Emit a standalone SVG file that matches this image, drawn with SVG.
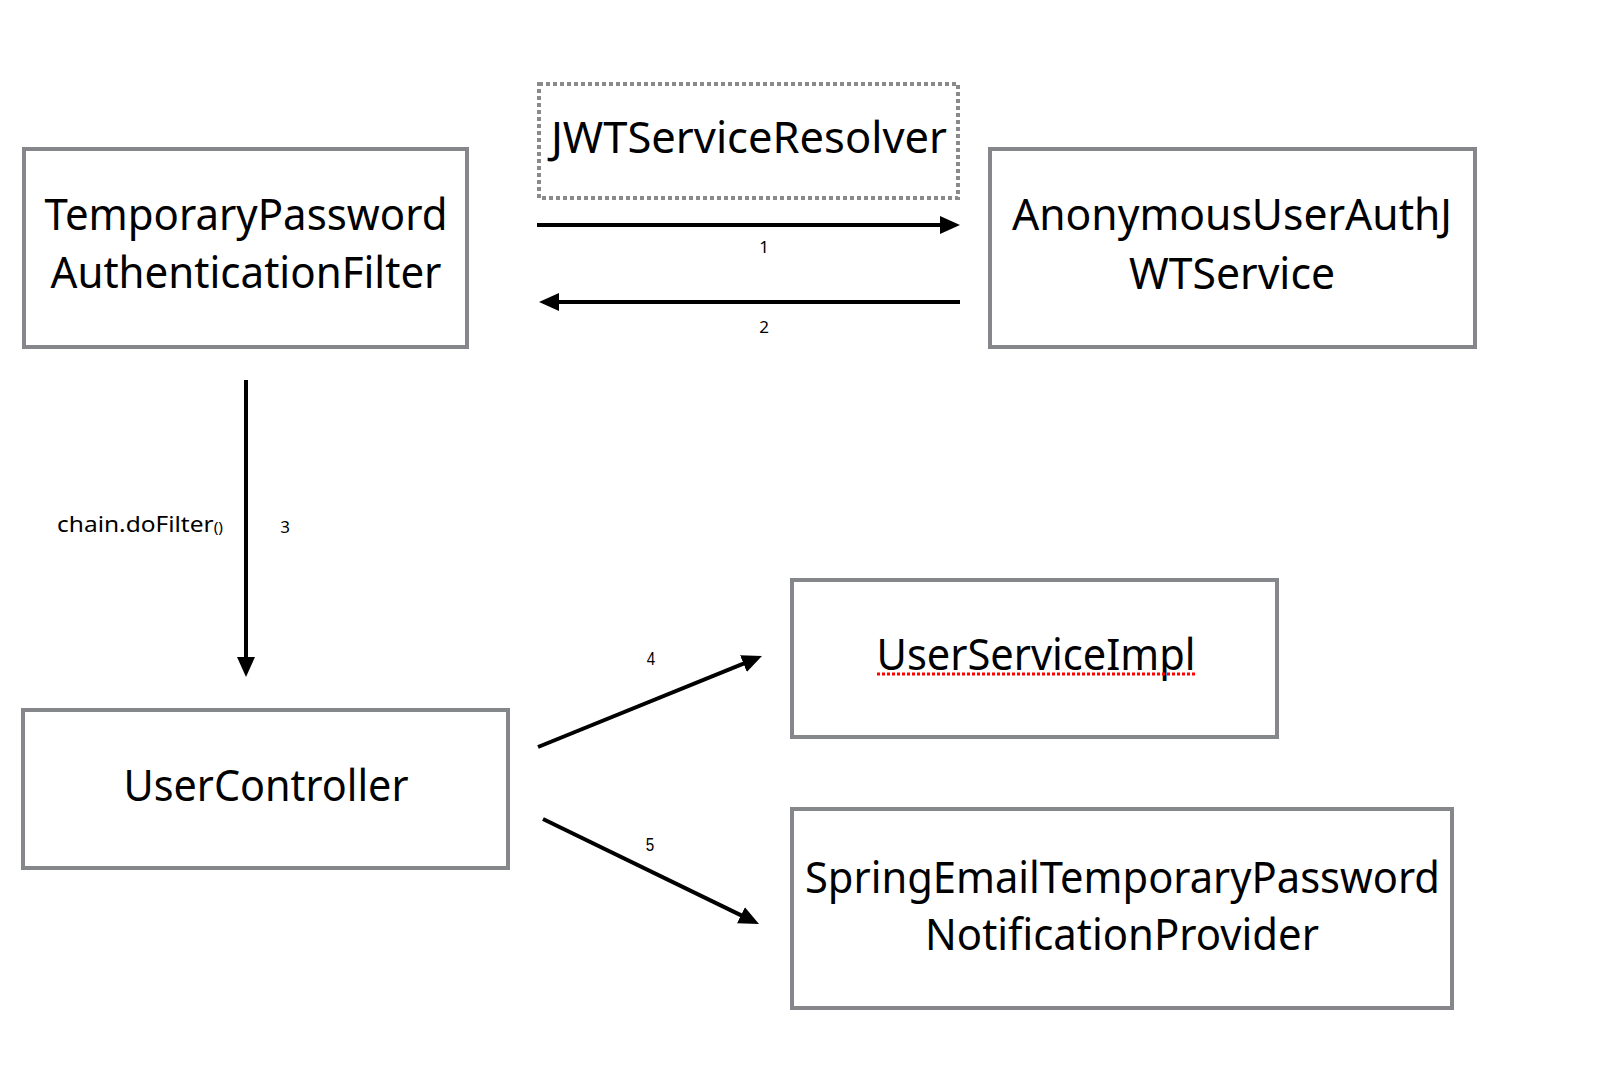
<svg xmlns="http://www.w3.org/2000/svg" width="1612" height="1068" viewBox="0 0 1612 1068">
<style>
.box{fill:#ffffff;stroke:#85878b;stroke-width:4}
.dash{fill:#ffffff;stroke:#8a8a8a;stroke-width:4;stroke-dasharray:4 3}
.lbl{font-family:"Noto Sans","Open Sans","Liberation Sans",sans-serif;font-size:44px;fill:#000;text-anchor:middle}
.num{font-family:"Noto Sans","Liberation Sans",sans-serif;font-size:17px;fill:#000;text-anchor:middle}
.cond{font-family:"Liberation Sans","DejaVu Sans",sans-serif;font-size:19px;fill:#000;text-anchor:middle}
.edge{stroke:#000;stroke-width:4;fill:none}
.small{font-family:"Noto Sans","Open Sans",sans-serif;font-size:22px;fill:#000}
</style>
<defs>
<marker id="arr" markerUnits="userSpaceOnUse" markerWidth="20" markerHeight="18" viewBox="0 0 20 18" refX="6" refY="9" orient="auto">
<path d="M0,0 L20,9 L0,18 z" fill="#000"/>
</marker>
</defs>
<rect width="1612" height="1068" fill="#ffffff"/>
<g id="node-filter">
<rect class="box" x="24" y="149" width="443" height="198"/>
<text class="lbl" x="246" y="230" textLength="403" lengthAdjust="spacingAndGlyphs">TemporaryPassword</text>
<text class="lbl" x="246" y="288" textLength="391" lengthAdjust="spacingAndGlyphs">AuthenticationFilter</text>
</g>
<g id="node-resolver">
<rect class="dash" x="539" y="84" width="419" height="114"/>
<text class="lbl" x="749" y="153" textLength="396" lengthAdjust="spacingAndGlyphs">JWTServiceResolver</text>
</g>
<g id="node-anon">
<rect class="box" x="990" y="149" width="485" height="198"/>
<text class="lbl" x="1232" y="230" textLength="440" lengthAdjust="spacingAndGlyphs">AnonymousUserAuthJ</text>
<text class="lbl" x="1232" y="289" textLength="206" lengthAdjust="spacingAndGlyphs">WTService</text>
</g>
<g id="node-controller">
<rect class="box" x="23" y="710" width="485" height="158"/>
<text class="lbl" x="266" y="801" textLength="285" lengthAdjust="spacingAndGlyphs">UserController</text>
</g>
<g id="node-service">
<rect class="box" x="792" y="580" width="485" height="157"/>
<text class="lbl" x="1036" y="670" textLength="319" lengthAdjust="spacingAndGlyphs">UserServiceImpl</text>
<line x1="877" y1="674" x2="1196" y2="674" stroke="#ff0000" stroke-width="3" stroke-dasharray="3 2"/>
</g>
<g id="node-notifier">
<rect class="box" x="792" y="809" width="660" height="199"/>
<text class="lbl" x="1122.5" y="893" textLength="635" lengthAdjust="spacingAndGlyphs">SpringEmailTemporaryPassword</text>
<text class="lbl" x="1122" y="950" textLength="394" lengthAdjust="spacingAndGlyphs">NotificationProvider</text>
</g>
<g id="connectors">
<line class="edge" x1="537" y1="225" x2="946" y2="225" marker-end="url(#arr)"/>
<text class="num" x="764" y="253">1</text>
<line class="edge" x1="960" y1="302" x2="553" y2="302" marker-end="url(#arr)"/>
<text class="num" x="764" y="333">2</text>
<line class="edge" x1="246" y1="380" x2="246" y2="663" marker-end="url(#arr)"/>
<text class="small" x="57" y="532" textLength="166" lengthAdjust="spacingAndGlyphs">chain.doFilter<tspan font-size="14">()</tspan></text>
<text class="num" x="285" y="533">3</text>
<line class="edge" x1="538" y1="747" x2="749" y2="661.3" marker-end="url(#arr)"/>
<text class="cond" x="651" y="665" transform="translate(651 0) scale(0.8 1) translate(-651 0)">4</text>
<line class="edge" x1="543" y1="819" x2="746.4" y2="917.9" marker-end="url(#arr)"/>
<text class="cond" x="650" y="851" font-size="17" transform="translate(650 0) scale(0.8 1) translate(-650 0)">5</text>
</g>
</svg>
